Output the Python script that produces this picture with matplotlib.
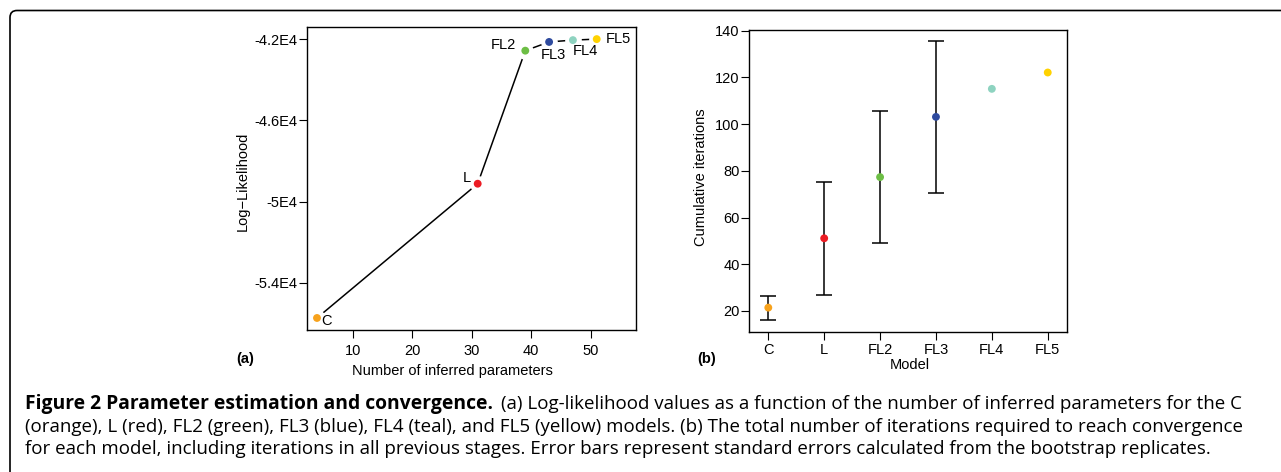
import matplotlib
matplotlib.use("Agg")
import matplotlib.pyplot as plt
from matplotlib.patches import FancyBboxPatch

# data
models = ["C", "L", "FL2", "FL3", "FL4", "FL5"]
colors = ["#F7A21C", "#EC1C24", "#6DBE45", "#2E4A9E", "#8ED3C0", "#FFD200"]
n_params = [4, 31, 39, 43, 47, 51]
loglik = [-55740, -49120, -42560, -42130, -42040, -41990]
iterations = [21.4, 51.1, 77.3, 103.1, 115.1, 122.1]
err_low = [16.0, 26.9, 49.0, 70.5]     # lower ends of error bars (C..FL3)
err_high = [26.6, 75.4, 105.4, 135.7]  # upper ends

# label offsets (pixels) and alignment for panel (a)
label_pos = {
    "C": ((4, -3), "left"),
    "L": ((-7, 6), "right"),
    "FL2": ((-9, 6), "right"),
    "FL3": ((4, -13), "center"),
    "FL4": ((12, -11), "center"),
    "FL5": ((9, 0), "left"),
}

plt.rcParams['font.family'] = ['Liberation Sans', 'DejaVu Sans']
plt.rcParams['font.size'] = 10

W, H = 1281, 472
fig = plt.figure(figsize=(W / 100, H / 100), dpi=100)

# ---- panel (a)
ax = fig.add_axes([306.7 / W, 1 - 330 / H, 329.3 / W, 302.7 / H])
ax.plot(n_params, loglik, color="black", lw=1.1, zorder=2)
ax.plot(n_params, loglik, "o", color="white", ms=11, zorder=2.1)
ax.scatter(n_params, loglik, c=colors, s=32, zorder=3, edgecolors="none")
for m, x, y in zip(models, n_params, loglik):
    off, ha = label_pos[m]
    ax.annotate(m, (x, y), xytext=off, textcoords="offset pixels",
                ha=ha, va="center", fontsize=10.5, zorder=4)
ax.set_xlim(2.27, 57.6)
ax.set_ylim(-56333, -41408)
ax.set_xticks([10, 20, 30, 40, 50])
ax.set_yticks([-42000, -46000, -50000, -54000])
ax.set_yticklabels(["-4.2E4", "-4.6E4", "-5E4", "-5.4E4"])
ax.tick_params(length=5.8, width=0.8, labelsize=10.5)
ax.tick_params(axis="y", pad=1)
ax.tick_params(axis="x", pad=4)
for s in ax.spines.values():
    s.set_linewidth(1.0)
ax.text(-0.193, 0.49, "Log\u2212Likelihood", transform=ax.transAxes,
        rotation=90, ha="center", va="center", fontsize=10.5)
ax.text(0.444, -0.134, "Number of inferred parameters", transform=ax.transAxes,
        ha="center", va="center", fontsize=10.5)
ax.text(-0.187, -0.096, "(a)", transform=ax.transAxes, ha="center",
        va="center", fontsize=10.5, fontweight="bold")

# ---- panel (b)
bx = fig.add_axes([749.3 / W, 1 - 331.7 / H, 318 / W, 301.7 / H])
pos = list(range(1, len(models) + 1))
n_err = len(err_low)
lower = [iterations[i] - err_low[i] for i in range(n_err)]
upper = [err_high[i] - iterations[i] for i in range(n_err)]
bx.errorbar(pos[:n_err], iterations[:n_err], yerr=[lower, upper], fmt="none",
            ecolor="black", elinewidth=1.1, capsize=5.8, capthick=1.1, zorder=2)
bx.scatter(pos, iterations, c=colors, s=32, zorder=3, edgecolors="none")
bx.set_xlim(0.66, 6.35)
bx.set_ylim(11.1, 140.3)
bx.set_xticks(pos)
bx.set_xticklabels(models)
bx.set_yticks(range(20, 141, 20))
bx.tick_params(length=5.8, width=0.8, labelsize=10.5)
bx.tick_params(axis="y", pad=1)
bx.tick_params(axis="x", pad=2)
for s in bx.spines.values():
    s.set_linewidth(1.0)
bx.text(-0.153, 0.512, "Cumulative iterations", transform=bx.transAxes,
        rotation=90, ha="center", va="center", fontsize=10.5)
bx.text(0.505, -0.111, "Model", transform=bx.transAxes,
        ha="center", va="center", fontsize=10.5)
bx.text(-0.134, -0.091, "(b)", transform=bx.transAxes, ha="center",
        va="center", fontsize=10.5, fontweight="bold")

# ---- frame (top + left with rounded corner)
frame = FancyBboxPatch((0.10, -0.5), 13.5, 4.72 - 0.105 + 0.5,
                       boxstyle="round,pad=0,rounding_size=0.07",
                       transform=fig.dpi_scale_trans, fill=False,
                       lw=1.2, edgecolor="black")
fig.patches.append(frame)

# ---- caption
cap_font = ['Open Sans', 'DejaVu Sans']
cap_size = 13.5
x0 = 25 / W
bold = fig.text(x0, 1 - 409.3 / H, "Figure 2 Parameter estimation and convergence.",
                family=cap_font, fontsize=13.9, fontweight="bold", va="baseline")
fig.canvas.draw()
bb = bold.get_window_extent(fig.canvas.get_renderer())
fig.text(bb.x1 / W + 8 / W, 1 - 409.3 / H,
         "(a) Log-likelihood values as a function of the number of inferred parameters for the C",
         family=cap_font, fontsize=cap_size, va="baseline")
fig.text(x0, 1 - 431.7 / H,
         "(orange), L (red), FL2 (green), FL3 (blue), FL4 (teal), and FL5 (yellow) models. "
         "(b) The total number of iterations required to reach convergence",
         family=cap_font, fontsize=cap_size, va="baseline")
fig.text(x0, 1 - 454 / H,
         "for each model, including iterations in all previous stages. Error bars represent "
         "standard errors calculated from the bootstrap replicates.",
         family=cap_font, fontsize=cap_size, va="baseline")

fig.savefig("out.png", dpi=100)
